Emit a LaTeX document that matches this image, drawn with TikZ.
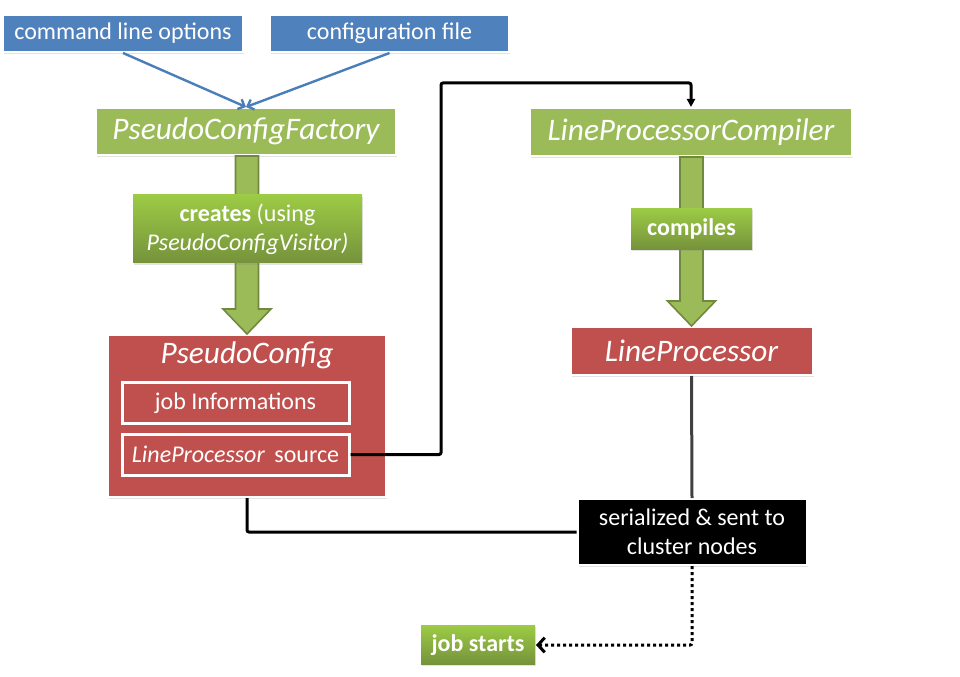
\documentclass[tikz,border=0pt]{standalone}
\usepackage{fontspec}
\setmainfont{Carlito}
\usetikzlibrary{calc,shadows,arrows.meta}

\definecolor{optblue}{HTML}{4F81BD}
\definecolor{linkblue}{HTML}{4A7EBB}
\definecolor{stepgreen}{HTML}{9BBB59}
\definecolor{edgegreen}{HTML}{71893F}
\definecolor{gradtop}{HTML}{9CCB45}
\definecolor{gradbot}{HTML}{76923C}
\definecolor{datared}{HTML}{C0504D}
\definecolor{wiregray}{HTML}{404040}

\tikzset{
  box/.style={draw=white, line width=1.5pt, inner sep=0pt, text=white,
    drop shadow={shadow xshift=0.9pt, shadow yshift=-1.2pt, opacity=0.22}},
  optbox/.style={box, fill=optblue, font=\fontsize{18}{20}\selectfont},
  classbox/.style={box, fill=stepgreen, font=\fontsize{23.5}{26}\selectfont\itshape},
  databox/.style={box, fill=datared},
  innerbox/.style={databox, line width=2.25pt, font=\fontsize{18}{20}\selectfont},
  actbox/.style={box, draw=none, top color=gradtop, bottom color=gradbot,
    font=\fontsize{18}{22}\selectfont, align=center},
  blockarrow/.style={fill=stepgreen, draw=edgegreen, line width=1.2pt, line join=miter},
  wire/.style={line width=2.25pt, rounded corners=1.5pt},
}

\begin{document}
\begin{tikzpicture}[x=0.75pt, y=-0.75pt]
\useasboundingbox (0,0) rectangle (960,677);

\node[optbox, minimum width=180pt, minimum height=27.75pt] (cmd) at (123,33.5) {command line options};
\node[optbox, minimum width=179pt, minimum height=27.75pt] (cfg) at (389.5,33.5) {configuration file};

\node[classbox, minimum width=225pt, minimum height=35.25pt] (factory) at (246,131.5) {PseudoConfigFactory};
\node[classbox, minimum width=241.5pt, minimum height=36pt] (compiler) at (691,132) {LineProcessorCompiler};

\node[databox, minimum width=208.5pt, minimum height=121.5pt,
  label={[anchor=north, text=white, yshift=-2pt, font=\fontsize{23.5}{26}\selectfont\itshape]north:PseudoConfig}]
  (pseudo) at (247,416) {};
\node[innerbox, minimum width=170.25pt, minimum height=30.75pt] (jobinfo) at (235.5,403) {job Informations};
\node[innerbox, minimum width=170.25pt, minimum height=30.75pt] (lpsrc) at (235.5,454.5) {\textit{LineProcessor}\, source};

\node[databox, minimum width=181.5pt, minimum height=36pt, font=\fontsize{23.5}{26}\selectfont\itshape] (lp) at (691.5,351) {LineProcessor};

\draw[blockarrow]
  ($(pseudo.north |- factory.south)+(-11.5,0)$) -- ($(pseudo.north)+(-11.5,-25)$)
  -- ($(pseudo.north)+(-24,-25)$) -- (pseudo.north) -- ($(pseudo.north)+(24,-25)$)
  -- ($(pseudo.north)+(11.5,-25)$) -- ($(pseudo.north |- factory.south)+(11.5,0)$) -- cycle;
\draw[blockarrow]
  ($(lp.north |- compiler.south)+(-11.5,0)$) -- ($(lp.north)+(-11.5,-25)$)
  -- ($(lp.north)+(-24,-25)$) -- (lp.north) -- ($(lp.north)+(24,-25)$)
  -- ($(lp.north)+(11.5,-25)$) -- ($(lp.north |- compiler.south)+(11.5,0)$) -- cycle;

\node[actbox, minimum width=171.75pt, minimum height=51pt] (creates) at (247.5,229)
  {\textbf{creates} (using\\\textit{PseudoConfigVisitor)}};
\node[actbox, minimum width=90.75pt, minimum height=30.75pt] (compiles) at (691.5,229) {\textbf{compiles}};

\node[box, fill=black, minimum width=171.75pt, minimum height=49.5pt, align=center,
  font=\fontsize{18}{22}\selectfont] (serial) at (692,532) {serialized \& sent to\\cluster nodes};
\node[actbox, minimum width=85.5pt, minimum height=29.25pt] (start) at (478,645) {\textbf{job starts}};

\coordinate (bend) at (441,83);

\draw[linkblue, line width=1.8pt, -{Straight Barb[length=4pt, width=8pt]}] (cmd.south) -- (factory.north);
\draw[linkblue, line width=1.8pt, -{Straight Barb[length=4pt, width=8pt]}] (cfg.south) -- (factory.north);

\draw[wire, -{Triangle[length=6pt, width=6pt]}] (lpsrc.east) -| (bend) -| (compiler.north);
\draw[wire] (pseudo.south) |- (serial.west);
\draw[wire, wiregray, rounded corners=0pt] (lp.south) -- (serial.north);
\draw[wire, dash pattern=on 2.25pt off 2.25pt, -{Straight Barb[length=5pt, width=11pt]}] (serial.south) |- (start.east);

\end{tikzpicture}
\end{document}
